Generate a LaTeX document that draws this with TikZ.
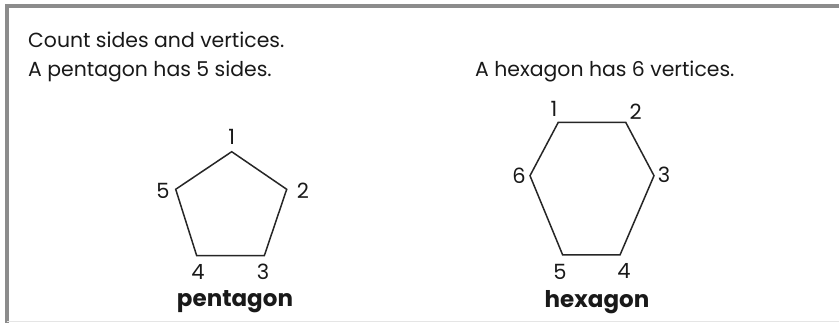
\documentclass[tikz,border=0pt]{standalone}
\usepackage{fontspec}
\setmainfont{Poppins}
\begin{document}
\begin{tikzpicture}[x=1pt,y=-1pt,
 framestyle/.style={draw=black!45,line width=3.5pt},
 poly/.style={draw=black!85,line width=1.5pt,line join=miter},
 txt/.style={anchor=base west,inner sep=0pt,font=\fontsize{20.4}{24}\selectfont,text=black!90},
 num/.style={inner sep=0pt,font=\fontsize{21}{24}\selectfont,text=black!90},
 lbl/.style={inner sep=0pt,font=\fontsize{23}{26}\selectfont\bfseries,text=black!90}]
\useasboundingbox (0,0) rectangle (839,323);
\fill[white] (0,0) rectangle (839,323);
\draw[framestyle] (7,330) -- (7,6) -- (845,6);
\draw[black!10,line width=1pt] (7,322) -- (839,322);
% texts
\node[txt] (t1) at (28,48) {Count sides and vertices.};
\node[txt] (t2) at (28,77) {A pentagon has 5 sides.};
\node[txt] (t3) at (475,77) {A hexagon has 6 vertices.};
% pentagon
\coordinate (p1) at (231.7,151.7);
\coordinate (p2) at (286.7,189.3);
\coordinate (p3) at (264.3,255.7);
\coordinate (p4) at (196.7,255.7);
\coordinate (p5) at (175.7,189.3);
\draw[poly] (p1) -- (p2) -- (p3) -- (p4) -- (p5) -- cycle;
\node[num] (pl1) at (231.7,137) {1};
\node[num] (pl2) at (303,191) {2};
\node[num] (pl3) at (263,272) {3};
\node[num] (pl4) at (198,272) {4};
\node[num] (pl5) at (163,191) {5};
\node[lbl] (pname) at (235,302) {pentagon};
% hexagon
\coordinate (h1) at (558.3,122.3);
\coordinate (h2) at (625.7,122.3);
\coordinate (h3) at (654,175.7);
\coordinate (h4) at (620,255);
\coordinate (h5) at (562.7,255);
\coordinate (h6) at (530,175.7);
\draw[poly] (h1) -- (h2) -- (h3) -- (h4) -- (h5) -- (h6) -- cycle;
\node[num] (hl1) at (554,109) {1};
\node[num] (hl2) at (635.7,112) {2};
\node[num] (hl3) at (664,175) {3};
\node[num] (hl4) at (624,271) {4};
\node[num] (hl5) at (560,272) {5};
\node[num] (hl6) at (519,176) {6};
\node[lbl] (hname) at (597,302) {hexagon};
\end{tikzpicture}
\end{document}
